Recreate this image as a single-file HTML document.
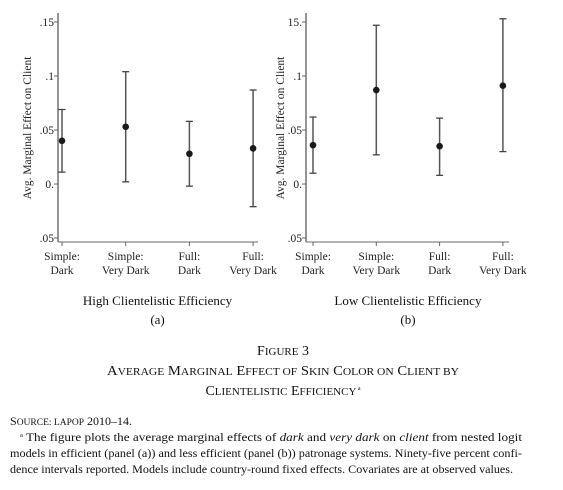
<!DOCTYPE html>
<html><head><meta charset="utf-8"><style>
html,body{margin:0;padding:0;background:#fff;}
svg{display:block;font-family:"Liberation Serif",serif;}
</style></head><body>
<svg id="fig" width="563" height="490" viewBox="0 0 563 490">
<g id="pa"></g>
<g id="pb"></g>
<g fill="#111" font-size="14" text-anchor="middle">
<text x="283" y="355">F<tspan font-size="11">IGURE</tspan> 3</text>
<text x="283" y="375" textLength="352" lengthAdjust="spacingAndGlyphs">A<tspan font-size="11">VERAGE</tspan> M<tspan font-size="11">ARGINAL</tspan> E<tspan font-size="11">FFECT OF</tspan> S<tspan font-size="11">KIN</tspan> C<tspan font-size="11">OLOR ON</tspan> C<tspan font-size="11">LIENT BY</tspan></text>
<text x="283" y="395">C<tspan font-size="11">LIENTELISTIC</tspan> E<tspan font-size="11">FFICIENCY</tspan><tspan font-size="6" dy="-5"> a</tspan></text>
</g>
<g fill="#111" font-size="12">
<text x="10" y="425">S<tspan font-size="9.5">OURCE: LAPOP</tspan> 2010–14.</text>
<text x="20" y="441" textLength="502" lengthAdjust="spacingAndGlyphs"><tspan font-size="6" dy="-4">a</tspan><tspan dy="4"> The figure plots the average marginal effects of <tspan font-style="italic">dark</tspan> and <tspan font-style="italic">very dark</tspan> on <tspan font-style="italic">client</tspan> from nested logit</tspan></text>
<text x="10" y="457" textLength="512" lengthAdjust="spacingAndGlyphs">models in efficient (panel (a)) and less efficient (panel (b)) patronage systems. Ninety-five percent confi-</text>
<text x="10" y="473" textLength="503" lengthAdjust="spacingAndGlyphs">dence intervals reported. Models include country-round fixed effects. Covariates are at observed values.</text>
</g>
</svg>
<script>
const categories = [["Simple:","Dark"],["Simple:","Very Dark"],["Full:","Dark"],["Full:","Very Dark"]];
const estA = [0.040, 0.053, 0.028, 0.033];
const hiA = [0.069, 0.104, 0.058, 0.087];
const loA = [0.011, 0.002, -0.002, -0.021];
const estB = [0.036, 0.087, 0.035, 0.091];
const hiB = [0.062, 0.147, 0.061, 0.153];
const loB = [0.010, 0.027, 0.008, 0.030];
const tickVals = [0.15, 0.1, 0.05, 0, -0.05];
const tickLabelsA = [".15", ".1", ".05", "0.", ".05"];
const tickLabelsB = ["15.", ".1", ".05", "0.", ".05"];
const NS = "http://www.w3.org/2000/svg";
function mk(parent, tag, attrs, text){
  const e = document.createElementNS(NS, tag);
  for (const k in attrs) e.setAttribute(k, attrs[k]);
  if (text !== undefined) e.textContent = text;
  parent.appendChild(e); return e;
}
function yScale(v){ return 184 - v * 1080; }
function drawPanel(g, axisX, catX, rightX, est, hi, lo, tickLabels, title, sub, ylabX){
  const xScale = i => catX[0] + i * (catX[1] - catX[0]);
  const ax = mk(g, "line", {x1:axisX, y1:13, x2:axisX, y2:242, stroke:"#666", "stroke-width":1.4});
  
  
  const bx = mk(g, "line", {x1:axisX, y1:242, x2:rightX, y2:242, stroke:"#888", "stroke-width":1.2});
  
  
  tickVals.forEach((v, i) => {
    const y = yScale(v);
    mk(g, "line", {x1:axisX-4, y1:y, x2:axisX, y2:y, stroke:"#666"});
    const t = mk(g, "text", {x:axisX-4, y:y+4, "font-size":11.5, "text-anchor":"end", fill:"#222"}, tickLabels[i]);
    
    
  });
  const yl = mk(g, "text", {x:ylabX, y:128, "font-size":11.5, "text-anchor":"middle", fill:"#222", transform:`rotate(-90 ${ylabX} 128)`}, "Avg. Marginal Effect on Client");
  
  
  categories.forEach((c, i) => {
    const x = xScale(i);
    mk(g, "line", {x1:x, y1:242, x2:x, y2:246, stroke:"#666"});
    const t1 = mk(g, "text", {x:x, y:260, "font-size":11.5, "text-anchor":"middle", fill:"#222"}, c[0]);
    
    
    const t2 = mk(g, "text", {x:x, y:274, "font-size":11.5, "text-anchor":"middle", fill:"#222"}, c[1]);
    
    
    const eg = mk(g, "g", {});
    
    
    const yh = yScale(hi[i]), yl2 = yScale(lo[i]);
    mk(eg, "line", {x1:x, y1:yh, x2:x, y2:yl2, stroke:"#555", "stroke-width":1.5});
    mk(eg, "line", {x1:x-3.5, y1:yh, x2:x+3.5, y2:yh, stroke:"#444", "stroke-width":1.3});
    mk(eg, "line", {x1:x-3.5, y1:yl2, x2:x+3.5, y2:yl2, stroke:"#444", "stroke-width":1.3});
    const p = mk(g, "circle", {cx:x, cy:yScale(est[i]), r:3.3, fill:"#1a1a1a"});
    
    
  });
  const mid = (catX[0] + xScale(3)) / 2;
  const tt = mk(g, "text", {x:mid, y:305, "font-size":13, "text-anchor":"middle", fill:"#111"}, title);
  
  
  const st = mk(g, "text", {x:mid, y:324, "font-size":13, "text-anchor":"middle", fill:"#111"}, sub);
  
  
}
drawPanel(document.getElementById("pa"), 58, [62, 125.7], 258, estA, hiA, loA, tickLabelsA, "High Clientelistic Efficiency", "(a)", 31);
drawPanel(document.getElementById("pb"), 306, [313, 376.3], 509, estB, hiB, loB, tickLabelsB, "Low Clientelistic Efficiency", "(b)", 284);
</script>
</body></html>
